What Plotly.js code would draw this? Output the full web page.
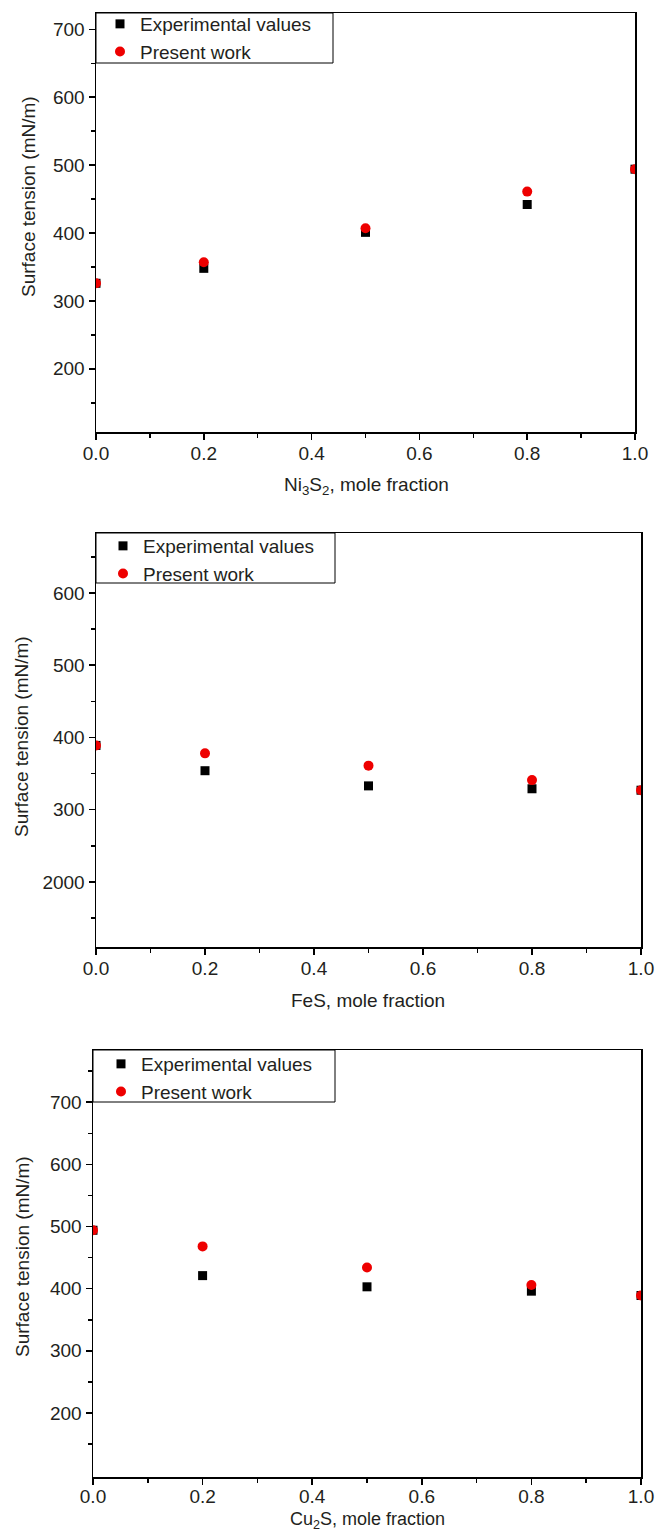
<!DOCTYPE html>
<html><head><meta charset="utf-8">
<script src="https://cdn.plot.ly/plotly-3.0.1.min.js"></script>
<style>html,body{margin:0;padding:0;background:#fff}</style>
</head><body><div id="chart" style="width:660px;height:1533px"></div>
<script>
// ---- data ----
const moleFraction = [0, 0.2, 0.5, 0.8, 1.0];
const ni3s2Experimental = [326, 348, 401, 442, 494];
const ni3s2Present = [326, 357, 407, 461, 494];
const fesExperimental = [389, 354, 333, 329, 327];
const fesPresent = [389, 378, 361, 341, 327];
const cu2sExperimental = [494, 421, 403, 396, 389];
const cu2sPresent = [494, 468, 434, 406, 389];
const seriesNames = ['Experimental values', 'Present work'];
const xTickVals = [0, 0.2, 0.4, 0.6, 0.8, 1.0];
const xTickText = ['0.0', '0.2', '0.4', '0.6', '0.8', '1.0'];
const xMinorVals = [0.1, 0.3, 0.5, 0.7, 0.9];
const yTickVals1 = [200, 300, 400, 500, 600, 700];
const yTickText1 = ['200', '300', '400', '500', '600', '700'];
const yTickVals2 = [200, 300, 400, 500, 600];
const yTickText2 = ['2000', '300', '400', '500', '600'];
const yTickVals3 = [200, 300, 400, 500, 600, 700];
const yTickText3 = ['200', '300', '400', '500', '600', '700'];
const yMinorVals = [150, 250, 350, 450, 550, 650, 750];
const xTitles = ['Ni<sub>3</sub>S<sub>2</sub>, mole fraction', 'FeS, mole fraction', 'Cu<sub>2</sub>S, mole fraction'];
const yTitle = 'Surface tension (mN/m)';

// ---- layout helpers ----
const W = 660, H = 1533;
const FONT = 'Liberation Sans, Arial, sans-serif';
const TXT = '#231f20';
const px = v => v / W;
const py = v => 1 - v / H;

const panels = [
  {exp: ni3s2Experimental, pre: ni3s2Present, xl: 96, xr: 635, yt: 13, yb: 432, yr: [107, 724], tv: yTickVals1, tt: yTickText1, box: [96, 333, 13, 63], lx: 100, ly: 5, tx: 28, ty: 197, ax: 366, ay: 486, afs: 19, ls: -2},
  {exp: fesExperimental, pre: fesPresent, xl: 96, xr: 641, yt: 533, yb: 947, yr: [110, 683], tv: yTickVals2, tt: yTickText2, box: [96, 335, 533, 583], lx: 103, ly: 527, tx: 21, ty: 737, ax: 368, ay: 1000, afs: 19, ls: -2},
  {exp: cu2sExperimental, pre: cu2sPresent, xl: 93, xr: 641, yt: 1050, yb: 1477, yr: [97, 784], tv: yTickVals3, tt: yTickText3, box: [93, 335, 1050, 1102], lx: 101, ly: 1045, tx: 22, ty: 1257, ax: 367, ay: 1520, afs: 18, ls: -4}
];

const data = [];
const layout = {
  width: W, height: H,
  margin: {l: 0, r: 0, t: 0, b: 0},
  paper_bgcolor: '#fff', plot_bgcolor: '#fff',
  font: {family: FONT, size: 18, color: TXT},
  shapes: [], annotations: []
};

panels.forEach((p, i) => {
  const n = i === 0 ? '' : String(i + 1);
  const lg = 'legend' + n;
  data.push({
    x: moleFraction, y: p.exp, type: 'scatter', mode: 'markers', name: seriesNames[0],
    xaxis: 'x' + n, yaxis: 'y' + n, legend: lg,
    marker: {symbol: 'square', size: 9, color: '#000'}
  });
  data.push({
    x: moleFraction, y: p.pre, type: 'scatter', mode: 'markers', name: seriesNames[1],
    xaxis: 'x' + n, yaxis: 'y' + n, legend: lg,
    marker: {symbol: 'circle', size: 10, color: '#ee0000'}
  });
  layout['xaxis' + n] = {
    domain: [px(p.xl), px(p.xr)], anchor: 'y' + n, range: [0, 1],
    showgrid: false, zeroline: false, showline: true, mirror: true,
    linecolor: '#000', linewidth: 1.5,
    ticks: 'outside', ticklen: 6, tickwidth: 1.5, tickcolor: '#000',
    tickmode: 'array', tickvals: xTickVals, ticktext: xTickText,
    tickfont: {family: FONT, size: 19, color: TXT}, ticklabelstandoff: p.ls,
    minor: {tickmode: 'array', tickvals: xMinorVals, ticks: 'outside', ticklen: 4, tickwidth: 1.5, tickcolor: '#000', showgrid: false}
  };
  layout['yaxis' + n] = {
    domain: [py(p.yb), py(p.yt)], anchor: 'x' + n, range: p.yr,
    showgrid: false, zeroline: false, showline: true, mirror: true,
    linecolor: '#000', linewidth: 1.5,
    ticks: 'outside', ticklen: 6, tickwidth: 1.5, tickcolor: '#000',
    tickmode: 'array', tickvals: p.tv, ticktext: p.tt,
    tickfont: {family: FONT, size: 19, color: TXT},
    minor: {tickmode: 'array', tickvals: yMinorVals, ticks: 'outside', ticklen: 4, tickwidth: 1.5, tickcolor: '#000', showgrid: false}
  };
  layout[lg] = {
    x: px(p.lx), y: py(p.ly), xanchor: 'left', yanchor: 'top',
    bgcolor: 'rgba(0,0,0,0)', borderwidth: 0,
    font: {family: FONT, size: 19, color: TXT},
    tracegroupgap: 0
  };
  layout.shapes.push({
    type: 'rect', xref: 'paper', yref: 'paper',
    x0: px(p.box[0]), x1: px(p.box[1]), y0: py(p.box[3]), y1: py(p.box[2]),
    line: {color: '#000', width: 1}, fillcolor: 'rgba(0,0,0,0)', layer: 'above'
  });
  layout.annotations.push({
    text: yTitle, xref: 'paper', yref: 'paper', x: px(p.tx), y: py(p.ty),
    xanchor: 'center', yanchor: 'middle', textangle: -90, showarrow: false,
    font: {family: FONT, size: 19, color: TXT}
  });
  layout.annotations.push({
    text: xTitles[i], xref: 'paper', yref: 'paper', x: px(p.ax), y: py(p.ay),
    xanchor: 'center', yanchor: 'middle', showarrow: false,
    font: {family: FONT, size: p.afs, color: TXT}
  });
});

Plotly.newPlot('chart', data, layout, {displayModeBar: false, staticPlot: true});
</script>
</body></html>
